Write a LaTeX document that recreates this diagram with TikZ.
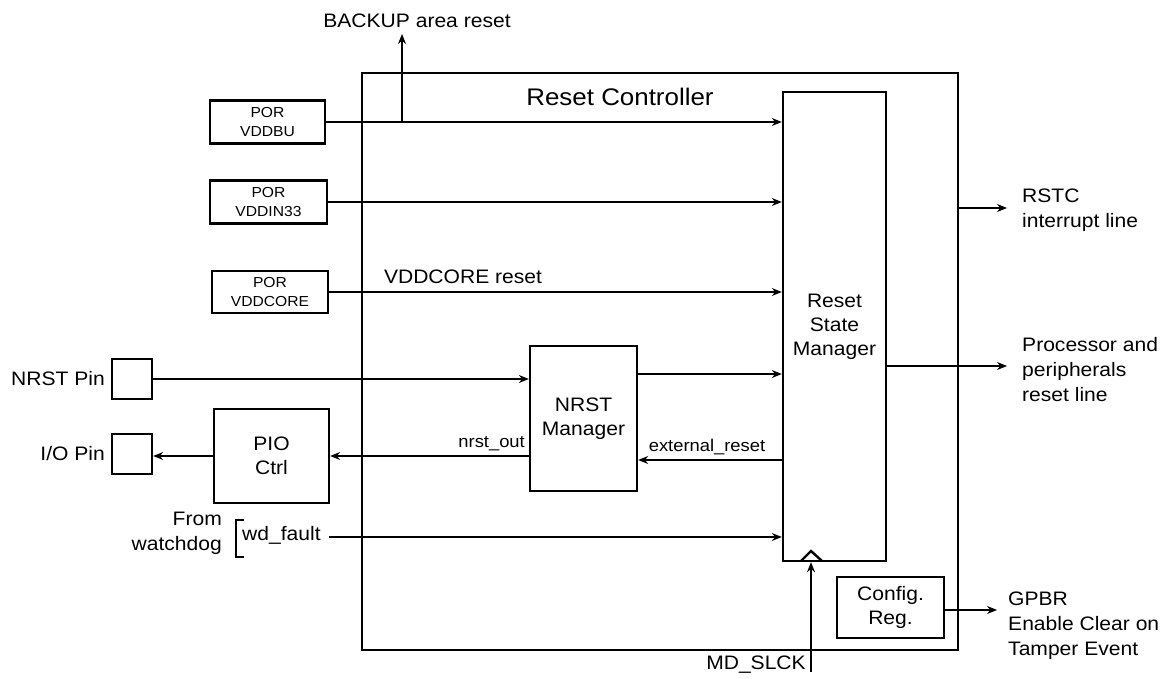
\documentclass[tikz,border=0pt]{standalone}
\usepackage{fontspec}
\setmainfont{Liberation Sans}[FakeStretch=1.08]
\usetikzlibrary{arrows.meta}

\begin{document}
\begin{tikzpicture}[x=1pt,y=-1pt,blk/.style={draw,line width=2.4pt,inner sep=0pt,align=center,font=\fontsize{19.5}{24}\selectfont},por/.style={blk,font=\fontsize{14.5}{18.5}\selectfont},sig/.style={line width=1.1pt,-{Stealth[length=10pt,width=8pt]}},lbl/.style={inner sep=0pt,align=left,font=\fontsize{19.5}{25}\selectfont},sml/.style={inner sep=0pt,font=\fontsize{17}{20}\selectfont}]
\useasboundingbox (0,0) rectangle (1167,679);
\node[draw,line width=2.8pt,minimum width=596pt,minimum height=577pt] (ctrl) at (660,361.5) {};
\node[lbl,font=\fontsize{24}{28}\selectfont] (title) at (620,97) {Reset Controller};
\node[blk,minimum width=103pt,minimum height=469pt] (rsm) at (834.5,326.5) {Reset\\State\\Manager};
\node[por,minimum width=115pt,minimum height=43pt] (porbu) at (267.5,122) {POR\\VDDBU};
\node[por,minimum width=117pt,minimum height=43pt] (porin) at (268.5,202) {POR\\VDDIN33};
\node[por,minimum width=116pt,minimum height=42pt] (porcore) at (270,292) {POR\\VDDCORE};
\node[blk,minimum size=40pt] (nrstpin) at (132,379) {};
\node[blk,minimum size=40pt] (iopin) at (132,454) {};
\node[blk,minimum width=115pt,minimum height=94pt] (pio) at (271.5,456) {PIO\\Ctrl};
\node[blk,minimum width=107pt,minimum height=145pt] (nrstmgr) at (583.5,418.5) {NRST\\Manager};
\node[blk,minimum width=107pt,minimum height=61pt] (cfg) at (890.5,607.5) {Config.\\Reg.};
% labels
\node[lbl,anchor=east] (nrstlbl) at (105,379) {NRST Pin};
\node[lbl,anchor=east] (iolbl) at (105,454) {I/O Pin};
\node[lbl] (backup) at (417,21) {BACKUP area reset};
\node[lbl] (corelbl) at (463,277) {VDDCORE reset};
\node[sml,anchor=base east] (nrstout) at (525,447) {nrst\_out};
\node[sml,anchor=base] (extlbl) at (707,451) {external\_reset};
\node[lbl,anchor=base west] (wdf) at (242,540) {wd\_fault};
\node[lbl,anchor=east,align=right] (wdog) at (222,533) {From\\watchdog};
\node[lbl,anchor=west] (rstc) at (1022,210.5) {RSTC\\interrupt line};
\node[lbl,anchor=west] (proc) at (1022,370) {Processor and\\peripherals\\reset line};
\node[lbl,anchor=west] (gpbr) at (1008,626) {GPBR\\Enable Clear on\\Tamper Event};
\node[lbl] (slcklbl) at (756,665) {MD\_SLCK};
% free ends
\coordinate (bk) at (402,122);
\coordinate (bktop) at (402,34);
\coordinate (wdin) at (329,537);
\coordinate (clk) at (811,672);
\coordinate (rstcout) at (1007,208);
\coordinate (procout) at (1007,366);
\coordinate (gpbrout) at (997,610);
\coordinate (rowa) at (0,374);
\coordinate (rowb) at (0,460);
% connectors
\draw[sig] (porbu.east) -- (porbu.east -| rsm.west);
\draw[sig] (bk) -- (bktop);
\draw[sig] (porin.east) -- (porin.east -| rsm.west);
\draw[sig] (porcore.east) -- (porcore.east -| rsm.west);
\draw[sig] (nrstpin.east) -- (nrstpin.east -| nrstmgr.west);
\draw[sig] (nrstmgr.east |- rowa) -- (rsm.west |- rowa);
\draw[sig] (rsm.west |- rowb) -- (nrstmgr.east |- rowb);
\draw[sig] (nrstmgr.west |- pio.east) -- (pio.east);
\draw[sig] (pio.west) -- (pio.west -| iopin.east);
\draw[sig] (wdin) -- (wdin -| rsm.west);
\draw[sig] (clk) -- (clk |- rsm.south);
\draw[sig] (ctrl.east |- rstcout) -- (rstcout);
\draw[sig] (rsm.east |- procout) -- (procout);
\draw[sig] (cfg.east |- gpbrout) -- (gpbrout);
% clock mark and bracket
\draw[line width=2.4pt] (801,561) -- (811,551) -- (822,561);
\draw[line width=2.4pt] (244,520) -- (236,520) -- (236,557) -- (244,557);
\end{tikzpicture}
\end{document}
